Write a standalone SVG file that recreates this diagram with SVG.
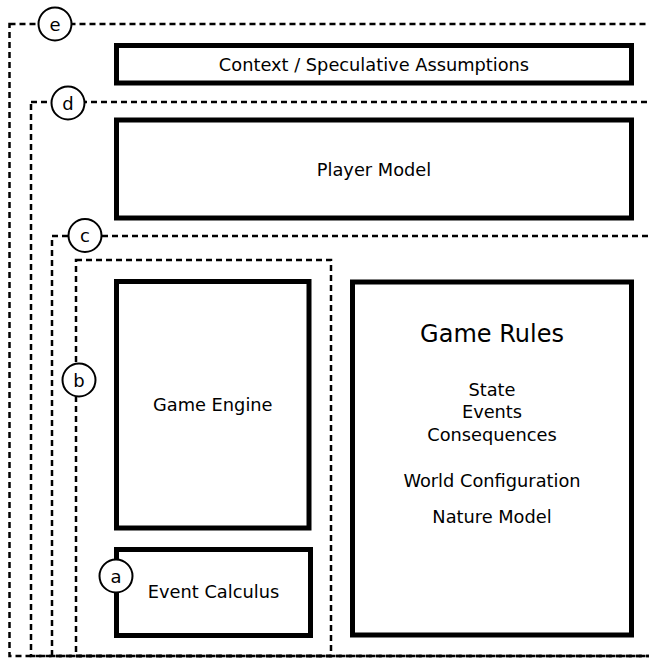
<svg xmlns="http://www.w3.org/2000/svg" width="649" height="658" viewBox="0 0 649 658">
<style>
.bg{fill:#fff}
.dash{fill:none;stroke:#000;stroke-width:2.5;stroke-dasharray:6,4}
.box{fill:#fff;stroke:#000;stroke-width:5}
.circ{fill:#fff;stroke:#000;stroke-width:2}
text{font-family:"DejaVu Sans","Liberation Sans",sans-serif;fill:#000;text-anchor:middle}
.t{font-size:17.8px}
.big{font-size:24px}
.lbl{font-size:18px}
</style>
<rect class="bg" x="0" y="0" width="649" height="658"/>
<g id="connectors">
<rect id="region-e" class="dash" x="9.5" y="24" width="700" height="632"/>
<rect id="region-d" class="dash" x="31" y="102" width="700" height="554"/>
<rect id="region-c" class="dash" x="52" y="236" width="700" height="420"/>
<rect id="region-b" class="dash" x="76" y="260" width="255" height="396"/>
</g>
<g id="context">
<rect class="box" x="116.5" y="45.5" width="515" height="37.5"/>
<text class="t" x="374" y="71">Context / Speculative Assumptions</text>
</g>
<g id="player-model">
<rect class="box" x="116.5" y="120" width="515" height="98"/>
<text class="t" x="374" y="175.5">Player Model</text>
</g>
<g id="game-engine">
<rect class="box" x="116.5" y="281.5" width="192.5" height="246.5"/>
<text class="t" x="212.8" y="410.7">Game Engine</text>
</g>
<g id="event-calculus">
<rect class="box" x="116.5" y="549.5" width="194" height="86"/>
<text class="t" x="213.5" y="598.3">Event Calculus</text>
</g>
<g id="game-rules">
<rect class="box" x="352.5" y="282" width="279" height="353"/>
<text class="big" x="492" y="342">Game Rules</text>
<text class="t" x="492" y="396">State</text>
<text class="t" x="492" y="418">Events</text>
<text class="t" x="492" y="440.5">Consequences</text>
<text class="t" x="492" y="487">World Configuration</text>
<text class="t" x="492" y="522.5">Nature Model</text>
</g>
<g id="label-e">
<circle class="circ" cx="55" cy="24" r="16.5"/>
<text class="lbl" x="55" y="30.5">e</text>
</g>
<g id="label-d">
<circle class="circ" cx="68" cy="103" r="16.5"/>
<text class="lbl" x="68" y="109.5">d</text>
</g>
<g id="label-c">
<circle class="circ" cx="85" cy="235.5" r="16.5"/>
<text class="lbl" x="85" y="242">c</text>
</g>
<g id="label-b">
<circle class="circ" cx="79" cy="380" r="16.5"/>
<text class="lbl" x="79" y="386.5">b</text>
</g>
<g id="label-a">
<circle class="circ" cx="116" cy="576" r="16.5"/>
<text class="lbl" x="116" y="582.5">a</text>
</g>
</svg>
